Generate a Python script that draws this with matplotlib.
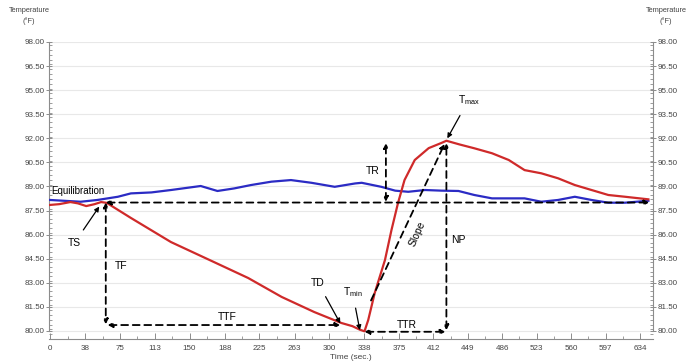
import matplotlib
matplotlib.use("Agg")
import matplotlib.pyplot as plt
from matplotlib.ticker import FixedLocator, MultipleLocator

# ---------------- data ----------------
red_t = [0, 10, 22, 30, 39, 48, 55, 61, 87, 130, 176, 213, 249, 284, 313, 325, 333, 338,
         342, 349, 360, 367, 374, 381, 392, 407, 421, 426, 440, 456, 475, 493, 510, 528,
         546, 564, 582, 600, 618, 643]
red_v = [87.85, 87.9, 88.03, 87.95, 87.78, 87.9, 88.03, 87.98, 87.04, 85.54, 84.30, 83.30,
         82.12, 81.18, 80.50, 80.30, 80.08, 79.98, 80.68, 82.37, 84.42, 86.29, 87.97, 89.40,
         90.65, 91.39, 91.72, 91.85, 91.62, 91.38, 91.07, 90.65, 90.02, 89.82, 89.51, 89.09,
         88.78, 88.47, 88.36, 88.20]

blue_t = [0, 33, 51, 73, 87, 109, 130, 162, 180, 198, 216, 238, 259, 281, 306, 328, 335,
          356, 371, 385, 403, 421, 439, 456, 475, 510, 528, 546, 564, 582, 600, 618, 643]
blue_v = [88.16, 88.05, 88.16, 88.36, 88.57, 88.63, 88.78, 89.03, 88.72, 88.88, 89.09, 89.30,
          89.40, 89.23, 88.98, 89.19, 89.23, 88.98, 88.74, 88.67, 88.78, 88.74, 88.72, 88.47,
          88.26, 88.26, 88.05, 88.16, 88.36, 88.16, 87.99, 87.99, 88.11]

x_ticks = [0, 38, 75, 113, 150, 188, 225, 263, 300, 338, 375, 412, 449, 486, 523, 560, 597, 634]
y_ticks = [80.00, 81.50, 83.00, 84.50, 86.00, 87.50, 89.00, 90.50, 92.00, 93.50, 95.00, 96.50, 98.00]

# key points of the annotation scheme
ts_t, base_v = 60, 88.0          # start of cooling, equilibrium level
td_t, td_v = 312, 80.42          # TD
tmin_t, tmin_v = 337, 79.95      # Tmin
tmax_t, tmax_v = 426, 91.80      # Tmax
tr_t = 361                       # TR arrow position
end_t = 644

RED = "#cf2a2a"
BLUE = "#2b2bc4"
GRAY = "#8c8c8c"
TXT = "#444444"

plt.rcParams['font.family'] = ['Liberation Sans', 'DejaVu Sans']

fig = plt.figure(figsize=(6.88, 3.63), dpi=100)
ax = fig.add_axes([49/688, 1-339/363, (653-49)/688, (339-42)/363])

ax.plot(blue_t, blue_v, color=BLUE, lw=1.6, zorder=3)
ax.plot(red_t, red_v, color=RED, lw=1.6, zorder=3)

ax.set_xlim(-1, 648)
ax.set_ylim(79.5, 98.0)

# grid
for yv in y_ticks:
    ax.axhline(yv, color="#e8e8e8", lw=0.8, zorder=0)

# spines / ticks
ax.spines['top'].set_visible(False)
for s in ['left', 'right', 'bottom']:
    ax.spines[s].set_color(GRAY)
    ax.spines[s].set_linewidth(0.8)
ax.spines['left'].set_bounds(80, 98)
ax.spines['right'].set_bounds(80, 98)

ax.xaxis.set_major_locator(FixedLocator(x_ticks))
ax.set_xticklabels([str(v) for v in x_ticks])
ax.xaxis.set_minor_locator(FixedLocator([(a + b) / 2 for a, b in zip(x_ticks[:-1], x_ticks[1:])]))
ax.yaxis.set_major_locator(FixedLocator(y_ticks))
ax.set_yticklabels([f"{v:.2f}" for v in y_ticks])
ax.yaxis.set_minor_locator(MultipleLocator(0.3))
ax.tick_params(axis='x', which='major', direction='in', length=4, width=0.7, color=GRAY,
               labelsize=5.8, labelcolor=TXT, pad=4)
ax.tick_params(axis='x', which='minor', direction='in', length=2, width=0.6, color=GRAY)
ax.tick_params(axis='y', which='major', direction='inout', length=4, width=0.7, color=GRAY,
               labelsize=5.8, labelcolor=TXT, left=True, right=True, labelleft=True,
               labelright=True, pad=1)
ax.tick_params(axis='y', which='minor', direction='in', length=2, width=0.6, color=GRAY,
               left=True, right=True)

ax.set_xlabel("Time (sec.)", fontsize=6, color=TXT, labelpad=2)
fig.text(29/688, 1-16/363, "Temperature\n(°F)", ha='center', va='center', fontsize=5.3,
         color=TXT, linespacing=1.5)
fig.text(666/688, 1-16/363, "Temperature\n(°F)", ha='center', va='center', fontsize=5.3,
         color=TXT, linespacing=1.5)

# ---------------- annotations ----------------
dash = (0, (3.8, 2.6))


def darrow(p0, p1, style='<|-|>'):
    ax.annotate('', xy=p1, xytext=p0,
                arrowprops=dict(arrowstyle=style, linestyle=dash, lw=1.3, color='k',
                                mutation_scale=7, shrinkA=0, shrinkB=0), zorder=4)


def parrow(text_xy, tip, label):
    ax.annotate(label, xy=tip, xytext=text_xy, fontsize=7.5, ha='center', va='center',
                arrowprops=dict(arrowstyle='-|>', lw=0.9, color='k', mutation_scale=7,
                                shrinkA=5, shrinkB=0), zorder=5)


darrow((ts_t, base_v), (end_t, base_v))                  # equilibrium baseline
darrow((ts_t, base_v), (ts_t, td_v))                      # TF
darrow((ts_t + 2, td_v - 0.05), (td_t, td_v - 0.05))      # TTF
darrow((tmin_t + 1, tmin_v), (tmax_t - 1, tmin_v))        # TTR
darrow((tmax_t, tmin_v + 0.1), (tmax_t, tmax_v - 0.1))    # NP
darrow((tr_t, base_v + 0.05), (tr_t, tmax_v - 0.1))       # TR
darrow((345, 81.9), (tmax_t - 2, tmax_v - 0.15), style='-|>')  # Slope

ax.text(1, 88.72, "Equilibration", fontsize=7, ha='left', va='center')
ax.text(70, 84.05, "TF", fontsize=7.5, ha='left', va='center')
ax.text(191, 80.85, "TTF", fontsize=7.5, ha='center', va='center')
ax.text(383, 80.35, "TTR", fontsize=7.5, ha='center', va='center')
ax.text(431, 85.67, "NP", fontsize=7.5, ha='left', va='center')
ax.text(354, 89.96, "TR", fontsize=7.5, ha='right', va='center')
ax.text(395, 86.05, "Slope", fontsize=7.5, ha='center', va='center', rotation=66)

parrow((26, 85.45), (53, 87.75), "TS")
parrow((288, 83.0), (td_t, td_v + 0.05), "TD")
parrow((325, 82.45), (333, 80.05), r"T$_{\mathregular{min}}$")
parrow((450, 94.4), (tmax_t + 1, tmax_v + 0.2), r"T$_{\mathregular{max}}$")

fig.savefig("out.png", dpi=100)
